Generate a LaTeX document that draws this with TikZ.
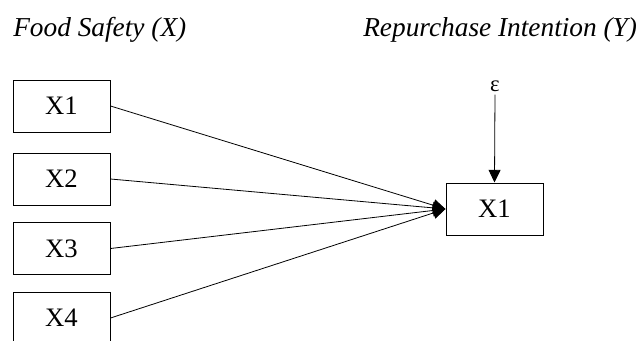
\documentclass[tikz,border=0pt]{standalone}
\usepackage{fontspec}
\setmainfont{Liberation Serif}
\usetikzlibrary{arrows.meta}
\begin{document}
\begin{tikzpicture}[x=0.75pt,y=-0.75pt,
  box/.style={draw,line width=0.75pt,minimum width=72.75pt,minimum height=39pt,inner sep=0pt,font=\fontsize{20pt}{23pt}\selectfont},
  title/.style={anchor=base west,inner sep=0pt,font=\fontsize{20.5pt}{24pt}\selectfont\itshape},
  conn/.style={line width=0.6pt,-{Triangle[length=9.5pt,width=9pt]}}]
\useasboundingbox (0,0) rectangle (644,340);
\clip (0,0) rectangle (644,340);
\node[title] (tx) at (13,36) {Food Safety (X)};
\node[title] (ty) at (363,36) {Repurchase Intention (Y)};
\node[box] (x1) at (61.5,106) {X1};
\node[box] (x2) at (61.5,179) {X2};
\node[box] (x3) at (61.5,248.5) {X3};
\node[box] (x4) at (61.5,318) {X4};
\node[box] (y1) at (494.5,209) {X1};
\node[inner sep=0pt,font=\fontsize{17pt}{20pt}\selectfont] (eps) at (495,86) {ε};
\draw[conn] (x1.east) -- (y1.west);
\draw[conn] (x2.east) -- (y1.west);
\draw[conn] (x3.east) -- (y1.west);
\draw[conn] (x4.east) -- (y1.west);
\draw[conn] (eps.south) ++(0,3) -- (y1.north);
\end{tikzpicture}
\end{document}
